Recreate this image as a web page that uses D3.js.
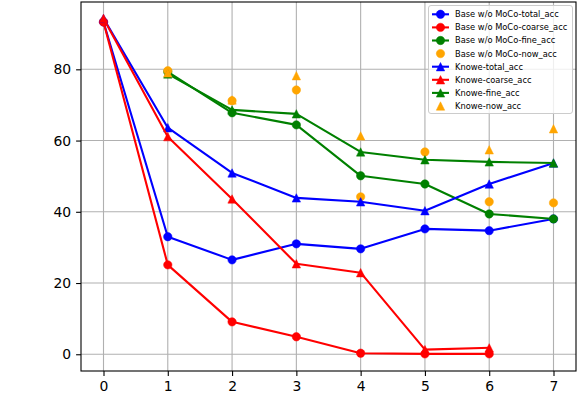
<!DOCTYPE html>
<html><head><meta charset="utf-8">
<script src="https://cdn.jsdelivr.net/npm/d3@7"></script>
<style>body{margin:0;background:#fff}svg{display:block}text{font-family:"DejaVu Sans",sans-serif}</style>
</head><body><svg id="c" width="578" height="394"></svg>
<script>
const epochs = [0,1,2,3,4,5,6,7];
const yTicks = [0,20,40,60,80];
const baseTotal  = [93.3,33.0,26.5,31.0,29.6,35.2,34.7,38.0];
const baseCoarse = [93.3,25.1,9.1,4.9,0.3,0.1,0.1,null];
const baseFine   = [null,79.3,67.8,64.4,50.1,47.8,39.4,38.0];
const baseNow    = [null,79.6,71.2,74.2,44.2,56.8,42.8,42.5];
const knoweTotal  = [94.3,63.6,50.9,43.9,42.8,40.3,47.8,53.7];
const knoweCoarse = [94.3,61.1,43.6,25.4,22.9,1.3,1.8,null];
const knoweFine   = [null,78.7,68.6,67.5,56.8,54.6,54.0,53.7];
const knoweNow    = [null,79.0,71.4,78.2,61.3,null,57.4,63.3];

const series = [
  {name:"Base w/o MoCo-total_acc", vals:baseTotal, color:"#0000ff", marker:"o", line:true},
  {name:"Base w/o MoCo-coarse_acc", vals:baseCoarse, color:"#ff0000", marker:"o", line:true},
  {name:"Base w/o MoCo-fine_acc", vals:baseFine, color:"#008000", marker:"o", line:true},
  {name:"Base w/o MoCo-now_acc", vals:baseNow, color:"#ffa500", marker:"o", line:false},
  {name:"Knowe-total_acc", vals:knoweTotal, color:"#0000ff", marker:"^", line:true},
  {name:"Knowe-coarse_acc", vals:knoweCoarse, color:"#ff0000", marker:"^", line:true},
  {name:"Knowe-fine_acc", vals:knoweFine, color:"#008000", marker:"^", line:true},
  {name:"Knowe-now_acc", vals:knoweNow, color:"#ffa500", marker:"^", line:false}
];

const L=81, R=576, T=2, B=371;
const svg=d3.select("#c");
const x=d3.scaleLinear().domain([-0.35,7.35]).range([L,R]);
const y=d3.scaleLinear().domain([-4.7,98.9]).range([B,T]);

const g=svg.append("g");
g.selectAll(".gx").data(epochs).join("line").attr("x1",d=>x(d)).attr("x2",d=>x(d)).attr("y1",T).attr("y2",B).attr("stroke","#b0b0b0").attr("stroke-width",1.1);
g.selectAll(".gy").data(yTicks).join("line").attr("y1",d=>y(d)).attr("y2",d=>y(d)).attr("x1",L).attr("x2",R).attr("stroke","#b0b0b0").attr("stroke-width",1.1);

const xa=svg.append("g").attr("transform",`translate(0,${B})`).call(d3.axisBottom(x).tickValues(epochs).tickFormat(d3.format("d")).tickSize(4.9).tickPadding(4.9));
const ya=svg.append("g").attr("transform",`translate(${L},0)`).call(d3.axisLeft(y).tickValues(yTicks).tickSize(4.9).tickPadding(4.9));
[xa,ya].forEach(a=>{a.select(".domain").remove();a.selectAll("text").attr("font-size",13.9).attr("font-family","DejaVu Sans").attr("fill","#000");a.selectAll("line").attr("stroke","#000").attr("stroke-width",1.1);});

const plot=svg.append("g");
const r=4.2;
const tri=(cx,cy,s)=>`M${cx},${cy-s}L${cx-s},${cy+s}L${cx+s},${cy+s}Z`;
function drawMarker(sel,m,cx,cy,color,s){
  if(m==="o") sel.append("circle").attr("cx",cx).attr("cy",cy).attr("r",s).attr("fill",color).attr("stroke",color).attr("stroke-width",0.5);
  else sel.append("path").attr("d",tri(cx,cy,s)).attr("fill",color).attr("stroke",color).attr("stroke-width",0.5);
}
series.forEach(s=>{
  const pts=epochs.map((e,i)=>[e,s.vals[i]]);
  if(s.line){
    plot.append("path").datum(pts).attr("d",d3.line().defined(d=>d[1]!=null).x(d=>x(d[0])).y(d=>y(d[1])))
      .attr("fill","none").attr("stroke",s.color).attr("stroke-width",2.1).attr("stroke-linejoin","round").attr("stroke-linecap","square");
  }
  pts.filter(d=>d[1]!=null).forEach(d=>drawMarker(plot,s.marker,x(d[0]),y(d[1]),s.color,r));
});

svg.append("rect").attr("x",L).attr("y",T).attr("width",R-L).attr("height",B-T).attr("fill","none").attr("stroke","#000").attr("stroke-width",1.1);

const lg=svg.append("g");
lg.append("rect").attr("x",428.5).attr("y",5.5).attr("width",144).attr("height",108).attr("rx",2.5).attr("fill","#fff").attr("fill-opacity",0.8).attr("stroke","#cccccc").attr("stroke-width",1);
series.forEach((s,i)=>{
  const cy=14.3+i*13.1;
  if(s.line) lg.append("line").attr("x1",432).attr("x2",449).attr("y1",cy).attr("y2",cy).attr("stroke",s.color).attr("stroke-width",2.1);
  drawMarker(lg,s.marker,440.5,cy,s.color,r);
  lg.append("text").attr("x",455).attr("y",cy).attr("dy","0.35em").attr("font-size",8.3).attr("fill","#000").text(s.name);
});
</script></body></html>
